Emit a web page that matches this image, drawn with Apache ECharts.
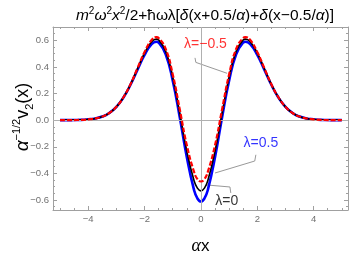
<!DOCTYPE html>
<html><head><meta charset="utf-8">
<script src="https://cdn.jsdelivr.net/npm/echarts@6/dist/echarts.min.js"></script>
<style>html,body{margin:0;padding:0;background:#fff}#c{width:354px;height:254px}</style>
</head><body><div id="c"></div>
<script>
const xs = [-5,-4.75,-4.5,-4.25,-4,-3.75,-3.5,-3.25,-3,-2.75,-2.5,-2.25,-2,-1.75,-1.58,-1.5,-1.25,-1,-0.75,-0.5,-0.25,-0.125,0,0.125,0.25,0.5,0.75,1,1.25,1.5,1.58,1.75,2,2.25,2.5,2.75,3,3.25,3.5,3.75,4,4.25,4.5,4.75,5];
const lam0 = [0.000,0.000,0.001,0.002,0.006,0.013,0.027,0.054,0.100,0.171,0.268,0.386,0.503,0.589,0.609,0.603,0.517,0.322,0.050,-0.234,-0.450,-0.511,-0.531,-0.511,-0.450,-0.234,0.050,0.322,0.517,0.603,0.609,0.589,0.503,0.386,0.268,0.171,0.100,0.054,0.027,0.013,0.006,0.002,0.001,0.000,0.000];
const lamPos = [0.000,0.000,0.001,0.002,0.006,0.013,0.027,0.054,0.100,0.170,0.266,0.380,0.491,0.571,0.589,0.583,0.495,0.297,0.020,-0.279,-0.520,-0.588,-0.611,-0.588,-0.520,-0.279,0.020,0.297,0.495,0.583,0.589,0.571,0.491,0.380,0.266,0.170,0.100,0.054,0.027,0.013,0.006,0.002,0.001,0.000,0.000];
const lamNeg = [0.000,0.000,0.001,0.002,0.006,0.013,0.027,0.054,0.100,0.172,0.270,0.391,0.512,0.602,0.624,0.618,0.535,0.344,0.080,-0.189,-0.385,-0.443,-0.461,-0.443,-0.385,-0.189,0.080,0.344,0.535,0.618,0.624,0.602,0.512,0.391,0.270,0.172,0.100,0.054,0.027,0.013,0.006,0.002,0.001,0.000,0.000];
const xMajor = [-4,-2,0,2,4];
const xMinor = [-5,-4.5,-3.5,-3,-2.5,-1.5,-1,-0.5,0.5,1,1.5,2.5,3,3.5,4.5,5];
const yMajor = [-0.6,-0.4,-0.2,0,0.2,0.4,0.6];
const yMinor = [-0.65,-0.55,-0.5,-0.45,-0.35,-0.3,-0.25,-0.15,-0.1,-0.05,0.05,0.1,0.15,0.25,0.3,0.35,0.45,0.5,0.55,0.65];
const labelNames = ['λ=−0.5','λ=0.5','λ=0'];
const labelPos = [[0.16,0.571],[2.13,-0.172],[0.92,-0.607]];
const callouts = [
  [[-0.21,0.468],[-0.18,0.434],[0.93,0.352]],
  [[1.95,-0.26],[1.91,-0.307],[0.50,-0.397]],
  [[0.21,-0.487],[1.03,-0.502],[1.06,-0.547]]
];
const colors = ['#ff0000','#0000ff','#000000'];

const XMIN=-5.25, XMAX=5.22, YMIN=-0.675, YMAX=0.7;
const frameColor='#a0a0a0';
const fmt = v => { const s = (Math.abs(v)<1e-9?0:v); return (s<0?'−':'') + Math.abs(s).toString(); };
const fmtY = v => { const s = (Math.abs(v)<1e-9?0:v); return (s<0?'−':'') + Math.abs(s).toFixed(1); };
const pairs = arr => xs.map((x,i)=>[x,arr[i]]);

function xAx(pos, ticks, len, line, labels){
  return {type:'value', position:pos, min:XMIN, max:XMAX,
    axisLine:{show:line, onZero:false, lineStyle:{color:frameColor,width:1}},
    axisTick:{show:true, inside:true, length:len, customValues:ticks, lineStyle:{color:frameColor}},
    axisLabel:{show:labels, customValues:ticks, formatter:fmt, color:'#707070', fontSize:9.5, fontFamily:'Liberation Sans', margin:4},
    splitLine:{show:false}, name:''};
}
function yAx(pos, ticks, len, line, labels){
  return {type:'value', position:pos, min:YMIN, max:YMAX,
    axisLine:{show:line, onZero:false, lineStyle:{color:frameColor,width:1}},
    axisTick:{show:true, inside:true, length:len, customValues:ticks, lineStyle:{color:frameColor}},
    axisLabel:{show:labels, customValues:ticks, formatter:fmtY, color:'#707070', fontSize:9.5, fontFamily:'Liberation Sans', margin:4},
    splitLine:{show:false}, name:''};
}
const xAxes = [xAx('bottom',xMajor,4,true,true), xAx('bottom',xMinor,2,false,false), xAx('top',xMajor,4,true,false), xAx('top',xMinor,2,false,false)];
const yAxes = [yAx('left',yMajor,4,true,true), yAx('left',yMinor,2,false,false), yAx('right',yMajor,4,true,false), yAx('right',yMinor,2,false,false)];
xAxes[0].name = '{i|α}{n|x}';
xAxes[0].nameLocation='middle'; xAxes[0].nameGap=27;
xAxes[0].nameTextStyle={rich:{i:{fontSize:18,fontStyle:'italic',fontFamily:'Liberation Serif',color:'#000'},n:{fontSize:17,fontFamily:'Liberation Sans',color:'#000'}}};

const series = [
  {type:'line', data:pairs(lamPos), smooth:true, symbol:'none', lineStyle:{color:colors[1],width:2.6}, z:3,
   markLine:{silent:true, symbol:'none', label:{show:false}, lineStyle:{color:'#b0b0b0',width:1,type:'solid'}, data:[{xAxis:0},{yAxis:0}]}},
  {type:'line', data:pairs(lam0), smooth:true, symbol:'none', lineStyle:{color:colors[2],width:1.6}, z:4},
  {type:'line', data:pairs(lamNeg), smooth:true, symbol:'none', lineStyle:{color:colors[0],width:2.2,type:[5,2]}, z:5}
];
callouts.forEach(c=>series.push({type:'line', data:c, symbol:'none', lineStyle:{color:'#999',width:1}, z:2}));
series.push({type:'scatter', symbolSize:0, z:6,
  data: labelPos.map((p,i)=>({value:p, label:{show:true, position:'inside', formatter:labelNames[i], color:colors[i], fontSize:14, fontFamily:'Liberation Sans'}}))});

const chart = echarts.init(document.getElementById('c'), null, {renderer:'canvas'});
chart.setOption({
  animation:false,
  backgroundColor:'#fff',
  title:{left:200, top:1, textAlign:'center',
    text:'{i|m}{sup|2}{i|ω}{sup|2}{i|x}{sup|2}{n|/2+ħωλ[}{i|δ}{n|(x+0.5/}{i|α}{n|)+}{i|δ}{n|(x−0.5/}{i|α}{n|)]}',
    textStyle:{lineHeight:20, fontWeight:'normal', rich:{
      i:{fontSize:15.5,fontStyle:'italic',fontWeight:'normal',fontFamily:'Liberation Sans',color:'#000',lineHeight:20},
      n:{fontSize:15.5,fontWeight:'normal',fontFamily:'Liberation Sans',color:'#000',lineHeight:20},
      sup:{fontSize:10,fontWeight:'normal',fontFamily:'Liberation Sans',color:'#000',verticalAlign:'top',lineHeight:20}}}},
  graphic:[{type:'text', x:23, y:117, rotation:Math.PI/2, z:10,
    style:{text:'{i|α}{sup|−1/2}{n|v}{sub|2}{n|(x)}', align:'center', verticalAlign:'middle',
      rich:{
        i:{fontSize:19,fontStyle:'italic',fontFamily:'Liberation Sans',fill:'#000',lineHeight:24,verticalAlign:'middle'},
        n:{fontSize:18,fontFamily:'Liberation Sans',fill:'#000',lineHeight:24,verticalAlign:'middle'},
        sup:{fontSize:11,fontFamily:'Liberation Sans',fill:'#000',lineHeight:24,verticalAlign:'top'},
        sub:{fontSize:11,fontFamily:'Liberation Sans',fill:'#000',lineHeight:24,verticalAlign:'bottom'}}}}],
  grid:{left:53, right:6, top:27, bottom:44, containLabel:false, outerBoundsMode:'none'},
  xAxis:xAxes, yAxis:yAxes, series:series
});
</script></body></html>
